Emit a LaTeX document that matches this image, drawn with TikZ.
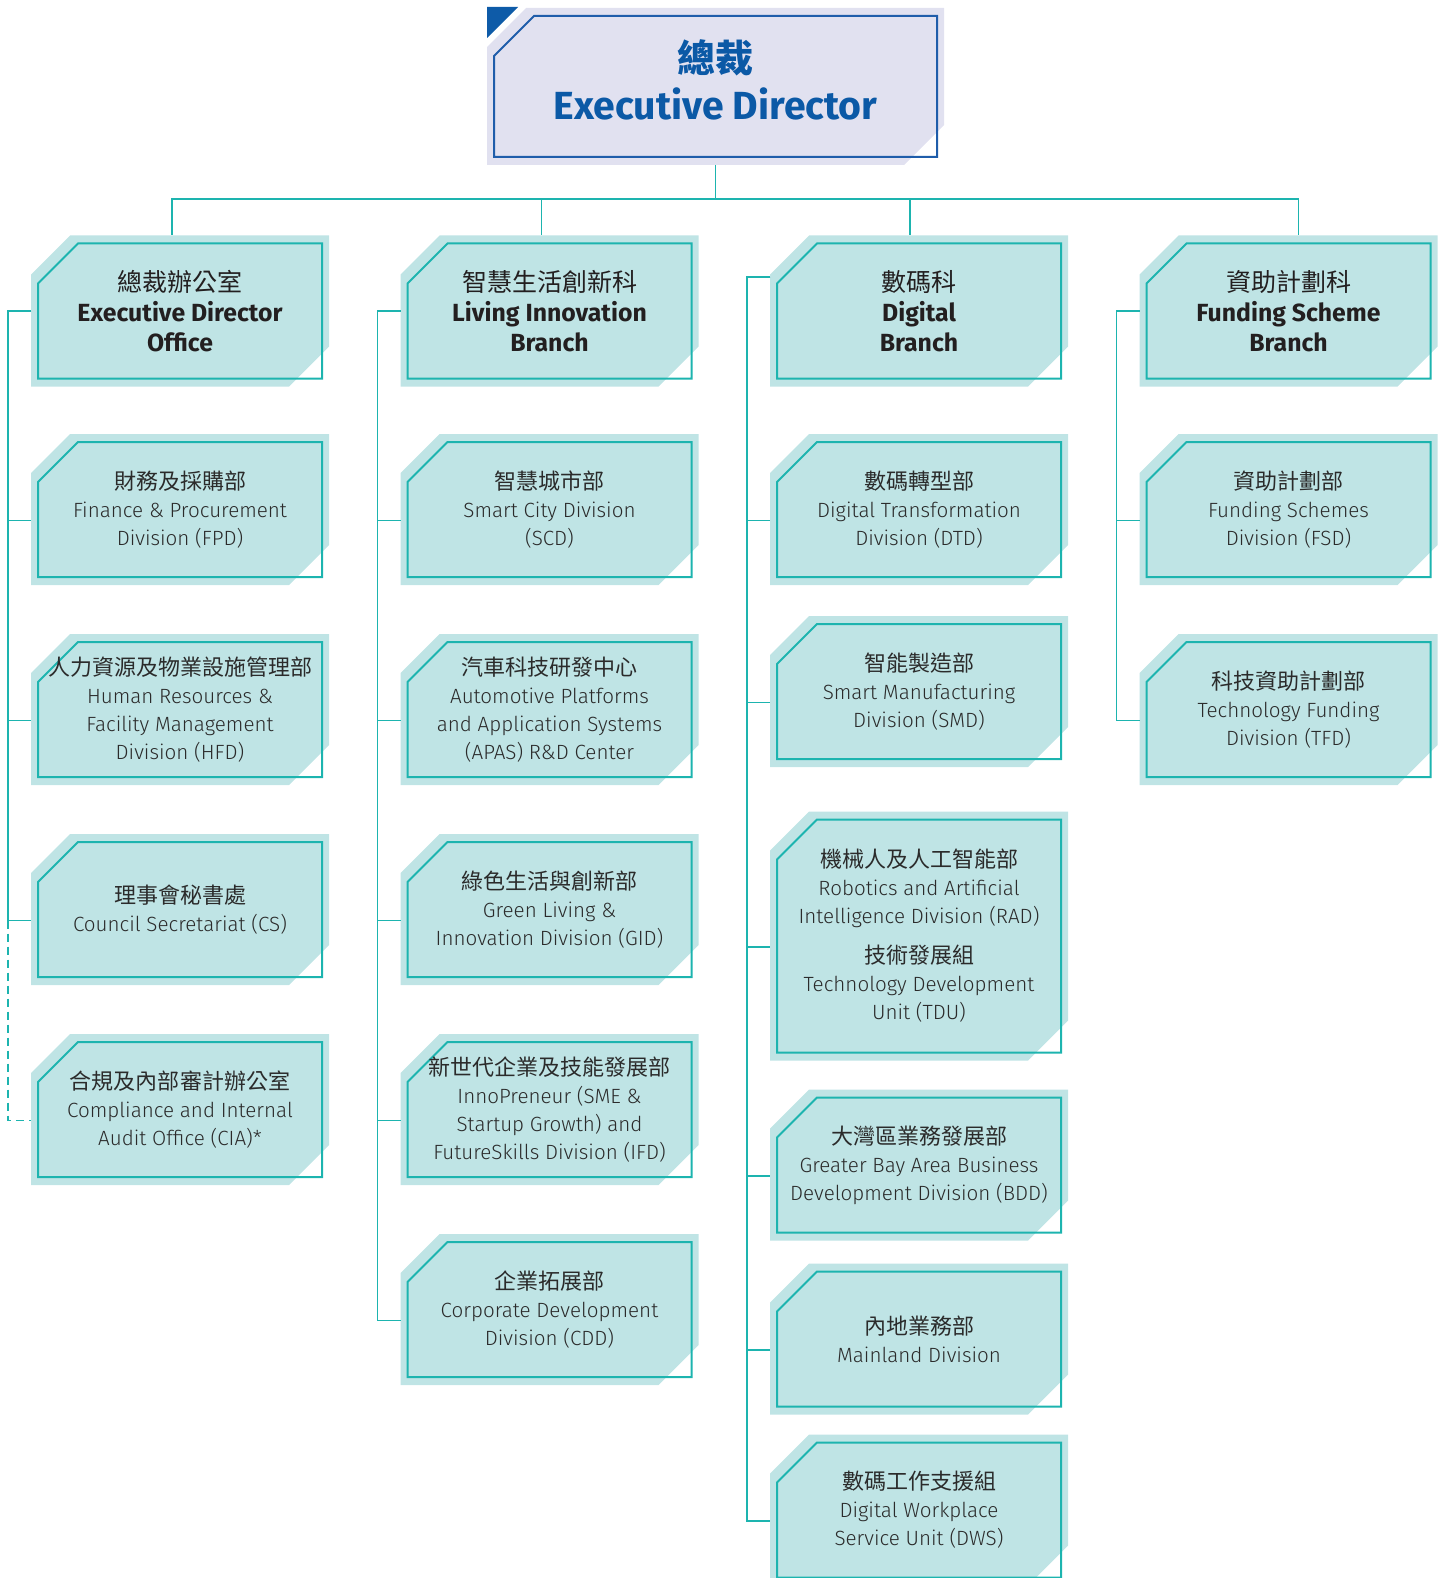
\documentclass[tikz,border=0pt]{standalone}
\usepackage{fontspec}
\newfontfamily\divfont{Fira Sans Light}
\newfontfamily\brfont{Fira Sans}
\newfontfamily\cjk{Noto Sans CJK TC}
\usetikzlibrary{positioning}
\usetikzlibrary{calc}
\usetikzlibrary{backgrounds}

\definecolor{unitfill}{HTML}{BFE4E5}
\definecolor{unitline}{HTML}{1DB4AF}
\definecolor{edfill}{HTML}{E1E1F0}
\definecolor{edline}{HTML}{1F5DAA}
\definecolor{edmark}{HTML}{0E5BA8}
\definecolor{edtext}{HTML}{0B59A6}
\definecolor{brtext}{HTML}{231F20}
\definecolor{divtext}{HTML}{2B2B2B}

\tikzset{
  unit/.style={minimum width=142pt, minimum height=67.5pt, inner sep=0pt, outer sep=0pt, align=center},
  division/.style={unit, text=divtext, font=\divfont\fontsize{10.3}{14}\selectfont},
  branch/.style={unit, text=brtext, font=\brfont\bfseries\fontsize{12.4}{15}\selectfont},
  link/.style={draw=unitline, line width=0.8pt},
}

% chinese lines
\newcommand\ch[1]{{\cjk\fontsize{11}{14}\selectfont #1}}
\newcommand\chb[1]{{\cjk\mdseries\fontsize{12.5}{15}\selectfont #1}}

% cut-corner frame behind a unit
\newcommand\unitframe[3]{%
  \begin{scope}[on background layer]
    \fill[#2] ($(#1.north west)+(-7,31)$) -- ($(#1.north west)+(32,-8)$)
      -- ($(#1.north east)+(7,-8)$) -- ($(#1.south east)+(7,-32)$)
      -- ($(#1.south east)+(-33,8)$) -- ($(#1.south west)+(-7,8)$) -- cycle;
    \draw[#3, line width=1pt] ($(#1.north west)+(0,40)$) -- ($(#1.north west)+(40,0)$)
      -- (#1.north east) -- (#1.south east) -- (#1.south west) -- cycle;
  \end{scope}}

\begin{document}
\begin{tikzpicture}[x=0.5pt, y=-0.5pt, node distance=100pt, on grid]
  \useasboundingbox (0,0) rectangle (1440,1578);

  \node[unit, minimum width=221.5pt, minimum height=70.5pt, text=edtext,
        font=\brfont\bfseries\fontsize{19.6}{23.5}\selectfont] (ed) at (715.5,86.5)
        {{\cjk\bfseries\fontsize{19}{23.5}\selectfont 總裁}\\Executive Director\rule[-7pt]{0pt}{0pt}};

  % branches
  \node[branch] (edo) at (180,311) {\chb{總裁辦公室}\\Executive Director\\Office};
  \node[branch, right=184.75pt of edo] (lib) {\chb{智慧生活創新科}\\Living Innovation\\Branch};
  \node[branch, right=184.75pt of lib] (dib) {\chb{數碼科}\\Digital\\Branch};
  \node[branch, right=184.75pt of dib] (fsb) {\chb{資助計劃科}\\Funding Scheme\\Branch};

  % executive director office
  \node[division, below=99.25pt of edo] (fpd) {\ch{財務及採購部}\\Finance \& Procurement\\Division (FPD)};
  \node[division, below=of fpd] (hfd) {\ch{人力資源及物業設施管理部}\\Human Resources \&\\Facility Management\\Division (HFD)};
  \node[division, below=of hfd] (cs) {\ch{理事會秘書處}\\Council Secretariat (CS)};
  \node[division, below=of cs] (cia) {\ch{合規及內部審計辦公室}\\Compliance and Internal\\Audit Office (CIA)*};

  % living innovation
  \node[division, below=99.25pt of lib] (scd) {\ch{智慧城市部}\\Smart City Division\\(SCD)};
  \node[division, below=of scd] (apas) {\ch{汽車科技研發中心}\\Automotive Platforms\\and Application Systems\\(APAS) R\&D Center};
  \node[division, below=of apas] (gid) {\ch{綠色生活與創新部}\\Green Living \&\\Innovation Division (GID)};
  \node[division, below=of gid] (ifd) {\ch{新世代企業及技能發展部}\\InnoPreneur (SME \&\\Startup Growth) and\\FutureSkills Division (IFD)};
  \node[division, below=of ifd] (cdd) {\ch{企業拓展部}\\Corporate Development\\Division (CDD)};

  % digital
  \node[division, below=99.25pt of dib] (dtd) {\ch{數碼轉型部}\\Digital Transformation\\Division (DTD)};
  \node[division, below=91pt of dtd] (smd) {\ch{智能製造部}\\Smart Manufacturing\\Division (SMD)};
  \node[division, minimum height=116.5pt, below=122.25pt of smd] (rad)
    {\ch{機械人及人工智能部}\\Robotics and Artificial\\Intelligence Division (RAD)\\[6pt]\ch{技術發展組}\\Technology Development\\Unit (TDU)};
  \node[division, below=114.5pt of rad] (bdd) {\ch{大灣區業務發展部}\\Greater Bay Area Business\\Development Division (BDD)};
  \node[division, below=87pt of bdd] (mld) {\ch{內地業務部}\\Mainland Division};
  \node[division, below=85.5pt of mld] (dws) {\ch{數碼工作支援組}\\Digital Workplace\\Service Unit (DWS)};

  % funding scheme
  \node[division, below=99.25pt of fsb] (fsd) {\ch{資助計劃部}\\Funding Schemes\\Division (FSD)};
  \node[division, below=of fsd] (tfd) {\ch{科技資助計劃部}\\Technology Funding\\Division (TFD)};

  \unitframe{ed}{edfill}{edline}
  \fill[edmark] ($(ed.north west)+(-7,-9)$) -- ++(31,0) -- ($(ed.north west)+(-7,22)$) -- cycle;
  \foreach \u in {edo,lib,dib,fsb,fpd,hfd,cs,cia,scd,apas,gid,ifd,cdd,dtd,smd,rad,bdd,mld,dws,fsd,tfd}
    \unitframe{\u}{unitfill}{unitline};

  % links
  \draw[link] ($(ed.south)+(0,8)$) -- ++(0,34) coordinate (bus);
  \draw[link] (bus) -| ($(edo.north)+(-8,-8)$);
  \draw[link] (bus) -| ($(lib.north)+(-8,-8)$);
  \draw[link] (bus) -| ($(dib.north)+(-9,-8)$);
  \draw[link] (bus) -| ($(fsb.north)+(10,-8)$);

  \foreach \d in {fpd,hfd,cs}
    \draw[link] ($(edo.west)+(-7,0)$) -| ($(\d.west)+(-30,11)$) -- ($(\d.west)+(-7,11)$);
  \draw[link, dash pattern=on 4pt off 2.5pt] ($(cs.west)+(-30,11)$) |- ($(cia.west)+(-7,11)$);
  \foreach \d in {scd,apas,gid,ifd,cdd}
    \draw[link] ($(lib.west)+(-7,0)$) -| ($(\d.west)+(-30,11)$) -- ($(\d.west)+(-7,11)$);
  \foreach \d in {dtd,smd,rad,bdd,mld,dws}
    \draw[link] ($(dib.west)+(-7,-34)$) -| ($(\d.west)+(-30,11)$) -- ($(\d.west)+(-7,11)$);
  \foreach \d in {fsd,tfd}
    \draw[link] ($(fsb.west)+(-7,0)$) -| ($(\d.west)+(-30,11)$) -- ($(\d.west)+(-7,11)$);
\end{tikzpicture}
\end{document}
